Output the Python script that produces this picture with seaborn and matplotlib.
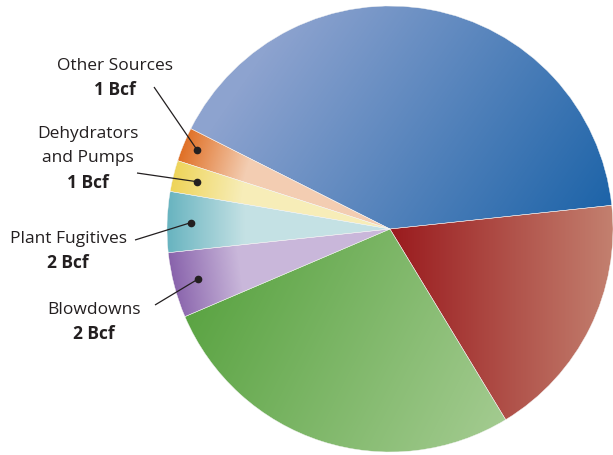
import numpy as np
import matplotlib
matplotlib.use("Agg")
import matplotlib.pyplot as plt
import seaborn as sns

# ---- data (pie order, counter-clockwise from start angle) ----
categories = ["Unlabeled (blue)", "Other Sources", "Dehydrators\nand Pumps",
              "Plant Fugitives", "Blowdowns", "Unlabeled (green)", "Unlabeled (red)"]
values = [17.7, 1.07, 0.98, 1.9, 2.05, 11.8, 7.8]          # Bcf (estimated)
value_labels = ["", "1 Bcf", "1 Bcf", "2 Bcf", "2 Bcf", "", ""]

# ---- style ----
sns.set_theme(style="white")
plt.rcParams["font.family"] = ["Open Sans", "DejaVu Sans"]

W, H = 613, 456
fig = plt.figure(figsize=(W / 100, H / 100), dpi=100)
ax = fig.add_axes([0, 0, 1, 1])

cx, cy_px, R = 390, 230, 223
cy = H - cy_px

wedges, _ = ax.pie(values, startangle=6.1, counterclock=True,
                   center=(cx, cy), radius=R,
                   wedgeprops=dict(linewidth=0.3, edgecolor="#f4f4f4"))
ax.set_xlim(0, W)
ax.set_ylim(0, H)
ax.set_aspect("equal")
ax.axis("off")

# gradient specs: (start colour, end colour, start px, end px)
grads = [
    ("#8da3cf", "#1c63a8", (300, 0), (610, 215)),    # blue
    ("#df6c20", "#f3cdb2", (182, 140), (250, 160)),  # orange
    ("#eed355", "#f7edb8", (172, 165), (245, 175)),  # yellow
    ("#69b4c0", "#c4e1e4", (168, 210), (245, 210)),  # light blue
    ("#855ea9", "#c9b7da", (168, 280), (240, 270)),  # purple
    ("#5ba443", "#a5cc92", (200, 290), (505, 445)),  # green
    ("#9a1b1e", "#c3806f", (392, 300), (613, 300)),  # red
]

yy, xx = np.mgrid[0:H, 0:W] + 0.5
for w, (c0, c1, p0, p1) in zip(wedges, grads):
    x0, y0 = p0[0], H - p0[1]
    x1, y1 = p1[0], H - p1[1]
    dx, dy = x1 - x0, y1 - y0
    t = ((xx - x0) * dx + (yy - y0) * dy) / (dx * dx + dy * dy)
    t = np.clip(t, 0, 1)
    cmap = sns.blend_palette([c0, c1], as_cmap=True)
    im = ax.imshow(t, extent=(0, W, 0, H), origin="lower", cmap=cmap,
                   vmin=0, vmax=1, interpolation="bilinear", zorder=1)
    im.set_clip_path(w)
    w.set_facecolor("none")
    w.set_zorder(2)

# ---- callouts ----
# index, text centre (px), leader start (px), radial fraction of dot
callouts = [
    (1, (115, 78), (154, 88), 0.935),
    (2, (88, 158), (137, 174), 0.89),
    (3, (68, 251), (135, 241), 0.895),
    (4, (94, 322), (155, 306), 0.89),
]
line_col = "#231f20"
for idx, (tx, ty), (lx, ly), frac in callouts:
    w = wedges[idx]
    mid = np.deg2rad((w.theta1 + w.theta2) / 2)
    dxp = cx + frac * R * np.cos(mid)
    dyp = cy + frac * R * np.sin(mid)
    ax.plot([lx, dxp], [H - ly, dyp], color=line_col, lw=0.9, zorder=5,
            solid_capstyle="butt")
    ax.plot([dxp], [dyp], "o", color=line_col, ms=4.5, zorder=6)
    name = categories[idx]
    nlines = name.count("\n") + 1
    pitch = 24.5
    top = ty - nlines * pitch / 2
    for k, line in enumerate(name.split("\n")):
        ax.text(tx, H - (top + k * pitch), line, ha="center", va="center",
                fontsize=12.5, color="#231f20", zorder=7)
    ax.text(tx, H - (top + nlines * pitch), value_labels[idx], ha="center",
            va="center", fontsize=12.5, fontweight="bold", color="#231f20",
            zorder=7)

fig.savefig("out.png", dpi=100)
